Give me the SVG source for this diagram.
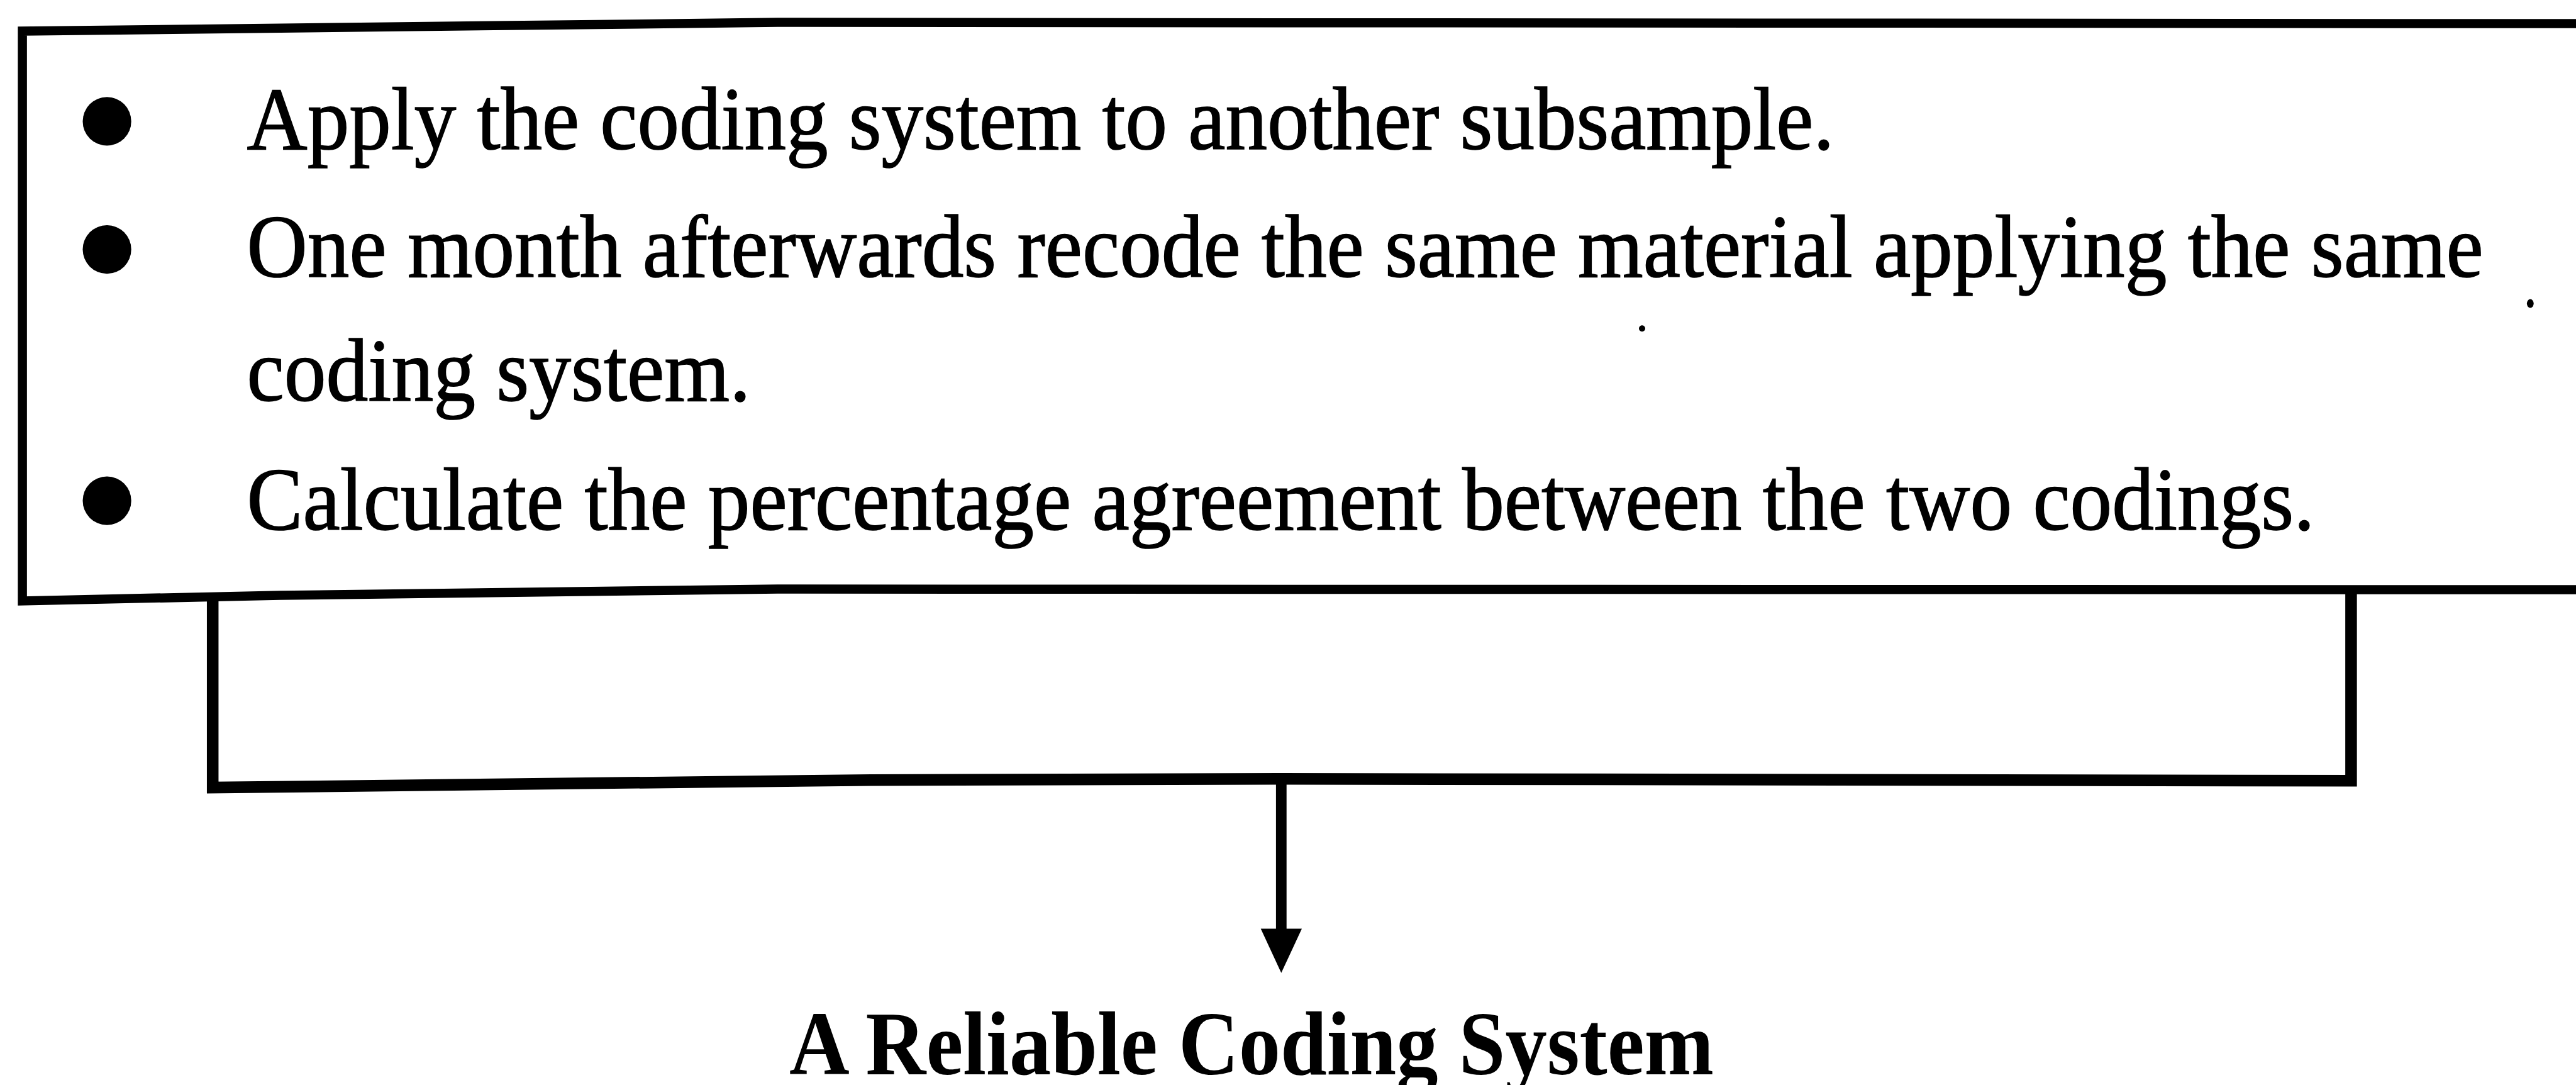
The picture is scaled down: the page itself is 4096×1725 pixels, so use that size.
<svg xmlns="http://www.w3.org/2000/svg" width="4096" height="1725" viewBox="0 0 4096 1725">
  <style>
    .frame { fill: none; stroke: #000; stroke-width: 14.5; stroke-linejoin: miter; }
    .bracket { fill: none; stroke: #000; stroke-width: 18.5; stroke-linejoin: miter; }
    .stem { stroke: #000; stroke-width: 16.8; }
    .body { font-family: "Liberation Serif", "Times New Roman", serif; font-size: 142px; fill: #000; stroke: #000; stroke-width: 1.6; }
    .title { font-family: "Liberation Serif", "Times New Roman", serif; font-size: 144px; font-weight: bold; fill: #000; }
    .bullet { fill: #000; }
  </style>
  <rect width="4096" height="1725" fill="#fff"/>

  <!-- procedure box: open on the right, runs off the page edge -->
  <g id="procedure-box">
    <path class="frame" d="M4100,37.6 L1236.3,35.6 L35.6,49.5 L35.6,955.4 L445.1,946.5 L1236.3,936.6 L4100,937.6"/>
    <circle class="bullet" cx="170.1" cy="192.9" r="38.6"/>
    <circle class="bullet" cx="170.1" cy="396.6" r="38.6"/>
    <circle class="bullet" cx="170.1" cy="796.1" r="38.6"/>
    <text class="body" x="392.6" y="237.4" textLength="2524" lengthAdjust="spacingAndGlyphs">Apply the coding system to another subsample.</text>
    <text class="body" x="392.6" y="440.1" textLength="3556" lengthAdjust="spacingAndGlyphs">One month afterwards recode the same material applying the same</text>
    <text class="body" x="392.6" y="636.9" textLength="801" lengthAdjust="spacingAndGlyphs">coding system.</text>
    <text class="body" x="392.6" y="841.6" textLength="3288" lengthAdjust="spacingAndGlyphs">Calculate the percentage agreement between the two codings.</text>
    <ellipse class="bullet" cx="4023.3" cy="482.6" rx="5.4" ry="7"/>
    <circle class="bullet" cx="2611" cy="522.2" r="5"/>
  </g>

  <!-- bracket under the box and arrow down to the result -->
  <g id="connectors">
    <path class="bracket" d="M338.2,946 L338.2,1252.1 L1384.6,1240.2 L2037.3,1238.2 L3738.4,1241.2 L3738.4,937.6"/>
    <line class="stem" x1="2037.3" y1="1238" x2="2037.3" y2="1478"/>
    <polygon class="bullet" points="2004.7,1476.6 2070,1476.6 2037.3,1546.8"/>
  </g>

  <g id="result">
    <text class="title" x="1255" y="1708" textLength="1470" lengthAdjust="spacingAndGlyphs">A Reliable Coding System</text>
  </g>
</svg>
